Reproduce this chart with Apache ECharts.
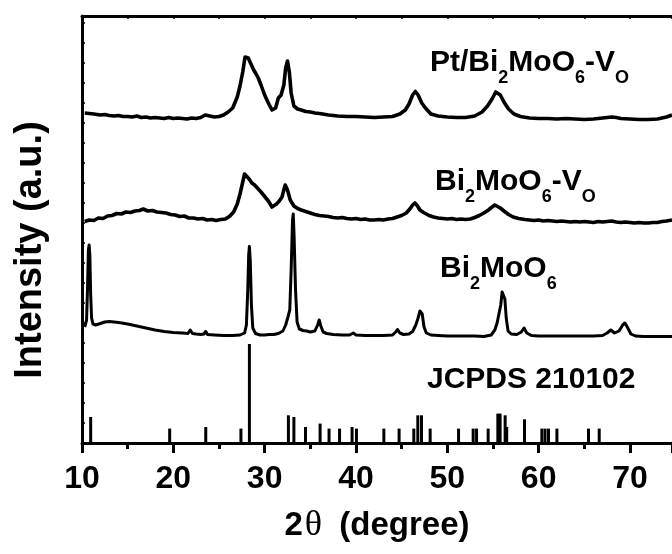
<!DOCTYPE html>
<html>
<head>
<meta charset="utf-8">
<script src="https://cdn.jsdelivr.net/npm/echarts@6/dist/echarts.min.js"></script>
<style>html,body{margin:0;padding:0;background:#fff}#chart{width:672px;height:554px}</style>
</head>
<body>
<div id="chart"></div>
<script>
// ---- data (2θ, relative intensity with vertical offsets) ----
const ptVoData = [
[10.3,330],[10.8,329.5],[11.3,329],[12,328],[12.5,328.5],[13,327.5],[13.5,327],[14,327.5],[14.5,326.5],[15,326.5],
[15.5,326],[16,327],[16.5,325.5],[17,326],[17.5,325],[18,325.5],[18.5,325],[19,324.5],[19.5,325.5],[20,324.5],
[20.5,325],[21,324.5],[21.5,324],[22,325],[22.5,324.5],[23,325.5],[23.5,328],[24,327],[24.5,326],[25,326.5],
[25.5,328],[26,331],[26.5,335],[27,346],[27.3,357],[27.6,371],[27.85,386],[28.0,388],[28.2,385],[28.4,381],
[28.6,377],[28.8,373],[29.0,370],[29.3,365],[29.6,358],[30.0,348],[30.4,340],[30.8,333],[31.0,331.5],[31.2,335],
[31.5,345],[31.8,348],[32.1,358],[32.3,375],[32.5,382],[32.7,371],[32.9,350],[33.2,337],[33.6,334],[34,333],
[34.5,331.5],[35,331],[35.5,330],[36,329.5],[37,328],[38,327],[39,326.5],[40,326.5],[41,326],[42,325.5],
[43,326],[44,326.5],[44.8,329],[45.4,333],[45.8,339],[46.2,348],[46.5,351.5],[46.8,348],[47.2,340],[47.6,335],
[48.2,329],[49,327],[50,326],[51,325.5],[52,325.5],[53,327],[53.8,331],[54.4,337],[54.9,344],[55.3,351],
[55.5,352.5],[55.8,348],[56.2,341],[56.7,334],[57.3,329],[58,326.5],[59,325],[60,324.5],[61,324.5],[62,324],
[63,324.5],[64,324],[65,323.5],[66,324],[67,325],[68,326],[68.5,325.5],[69,324.5],[70,324],[71,323.5],
[72,323.5],[73,324],[74,326],[74.6,328]
];
const voData = [
[10.3,221.5],[10.8,223],[11.3,222.5],[11.8,225],[12.3,224.5],[12.8,227],[13.3,227.5],[13.8,229.5],[14.3,229],[14.8,231],
[15.3,230.5],[15.8,232],[16.3,232.5],[16.7,234],[17.2,232],[17.7,232.5],[18.2,231],[18.7,230.5],[19.2,230],[19.7,228.5],
[20.2,228],[20.7,226.5],[21.2,227],[21.7,225],[22.2,225],[22.7,224],[23.2,224.5],[23.7,223],[24.2,223.5],[24.7,222.5],
[25.2,223.5],[25.7,224],[26.2,227],[26.6,231],[27.0,239],[27.3,249],[27.55,259],[27.8,269],[28.0,268],[28.3,264],
[28.6,260],[28.9,258],[29.2,255],[29.6,251],[30.0,246.5],[30.4,242],[30.8,236],[31.0,235],[31.3,239],[31.6,242],
[31.9,246],[32.1,253],[32.25,258],[32.5,253],[32.8,243],[33.2,237],[33.6,234.5],[34,233],[34.5,231.5],[35,230],
[35.5,228.5],[36,227.5],[36.5,227],[37,226.5],[37.5,225.5],[38,225],[38.5,225.5],[39,224.5],[39.5,224],[40,224.5],
[40.5,223.5],[41,224],[41.5,223],[42,223],[42.5,223.5],[43,223],[43.5,224],[44,224.5],[44.5,226],[45,227.5],
[45.5,230],[45.9,234],[46.2,238],[46.45,240],[46.7,237.5],[47.0,233],[47.4,230.5],[48,227.5],[48.5,226],[49,225],
[49.5,224.5],[50,224],[50.5,224.5],[51,223.5],[51.5,224],[52,223.5],[52.5,224],[53,225.5],[53.5,227.5],[54,230],
[54.5,233],[54.9,236],[55.2,238],[55.5,236.5],[55.8,235],[56.2,232],[56.7,228.5],[57.2,226],[57.8,224.5],[58.5,223.5],
[59,223],[59.5,222.5],[60,223],[60.5,222],[61,222.5],[61.5,222],[62,221.5],[62.5,222],[63,221.5],[63.5,221],
[64,221.5],[64.5,221],[65,221.5],[65.5,221],[66,220.5],[66.5,221.5],[67,221],[67.5,221.5],[68,222],[68.5,221],
[69,220.5],[69.5,221],[70,220.5],[70.5,220],[71,220.5],[71.5,220],[72,220],[72.5,220.5],[73,220.5],[73.5,221.5],
[74,222],[74.6,223]
];
const bmoData = [
[10.3,116],[10.5,123],[10.6,153],[10.7,193],[10.78,198],[10.86,188],[10.95,148],[11.05,125],[11.2,119],[11.5,118],
[12,119.5],[12.5,121],[13,121.5],[13.5,121],[14,120.5],[15,119],[16,117],[17,115],[18,113],[19,111.5],
[20,110.5],[21,110],[21.6,109.5],[21.85,113],[22.1,109.5],[22.5,109],[23,108.5],[23.35,109],[23.55,111.5],[23.75,108.5],
[24.5,108],[25.5,107.5],[26.5,107.5],[27.3,108],[27.8,110],[28.0,118],[28.15,153],[28.25,188],[28.33,196.5],[28.42,183],
[28.55,138],[28.7,115],[29,109.5],[29.5,108],[30,108],[30.5,108.5],[31,108.5],[31.5,109.5],[32,112],[32.3,118],
[32.55,126],[32.75,133],[32.9,173],[33.05,223],[33.13,229],[33.22,208],[33.38,153],[33.55,121],[33.8,114],[34.2,112.5],
[34.6,112],[35.0,111],[35.5,112],[35.8,118],[35.97,123],[36.15,117],[36.4,111],[36.8,109.5],[37.5,108.5],[38.5,108],
[39.3,108],[39.7,110],[40.0,108],[41,107.5],[42,107.5],[43,107.5],[44,108],[44.35,111],[44.55,113.5],[44.8,110],
[45.2,108.5],[45.8,109],[46.2,111.5],[46.55,118],[46.8,125],[47.0,132],[47.1,133.5],[47.25,129],[47.45,116],[47.7,110],
[48.2,108],[49,107.5],[50,107],[51,107],[52,107],[53,107],[54,106.5],[54.8,108],[55.2,113],[55.45,120],
[55.65,121],[55.85,138],[56.0,151],[56.15,152.5],[56.3,144],[56.45,125],[56.65,112],[57,109],[57.6,108.5],[58.1,111],
[58.4,115],[58.7,110],[59.2,107.5],[60,107],[62,107],[64,107],[66,107],[67,107.5],[67.5,110],[67.9,113],
[68.3,110],[68.8,112],[69.2,118],[69.45,120],[69.7,116],[70.1,109],[70.6,107],[71.5,106.5],[72.5,106.5],[74.6,106.5]
];
const jcpdsPeaks = [
[10.95,26],[19.6,14.4],[23.55,16],[27.4,14.4],[28.33,99],[32.6,27.7],[33.2,26],[34.47,16],[36.07,19.4],[37.05,14.4],
[38.2,14.4],[39.57,16],[40.05,14.4],[43.05,14.4],[44.72,14.4],[46.33,14.4],[46.77,27.7],[47.17,27.7],[48.12,14.4],[51.23,14.4],
[52.83,14.4],[53.2,14.4],[54.47,14.4],[55.53,29.4],[55.78,29.4],[56.33,27.7],[56.5,16],[58.45,23.7],[60.35,14.4],[60.7,14.4],
[61.08,14.4],[62.0,14.4],[65.46,14.4],[66.63,14.4]
];
const xTickLabels = ['10','20','30','40','50','60','70'];
const labels = [
  {parts:[{t:'Pt/Bi'},{t:'2',sub:true},{t:'MoO'},{t:'6',sub:true},{t:'-V'},{t:'O',sub:true}], left:430, base:73},
  {parts:[{t:'Bi'},{t:'2',sub:true},{t:'MoO'},{t:'6',sub:true},{t:'-V'},{t:'O',sub:true}], left:435, base:192},
  {parts:[{t:'Bi'},{t:'2',sub:true},{t:'MoO'},{t:'6',sub:true}], left:440, base:279},
  {parts:[{t:'JCPDS 210102'}], left:427, base:390}
];

const FONT = '"Liberation Sans", Arial, Helvetica, sans-serif';
const ctx = document.createElement('canvas').getContext('2d');
const graphics = [];
labels.forEach(l => {
  let x = l.left;
  l.parts.forEach(p => {
    const size = p.sub ? 18 : 30;
    const font = 'bold ' + size + 'px ' + FONT;
    ctx.font = font;
    const w = ctx.measureText(p.t).width;
    const b = p.sub ? l.base + 11 : l.base;
    graphics.push({type:'text', x: x, y: b + 0.17 * size, z: 100,
      style:{text:p.t, font:font, fill:'#000', textAlign:'left', textVerticalAlign:'bottom'}});
    x += w;
  });
});
graphics.push({type:'text', x:31, y:250, rotation: Math.PI/2, z:100,
  style:{text:'Intensity (a.u.)', font:'bold 38px ' + FONT, fill:'#000', textAlign:'center', textVerticalAlign:'middle'}});

const chart = echarts.init(document.getElementById('chart'), null, {renderer:'canvas'});
const lineStyle = {color:'#000', width:3, join:'round'};
const noisyStyle = {color:'#000', width:3.6, join:'round'};
chart.setOption({
  animation:false,
  backgroundColor:'#fff',
  grid:{left:82, right:0, top:16, bottom:111, containLabel:false},
  xAxis:[{
    type:'value', min:10, max:74.6, interval:10, position:'bottom',
    axisLine:{show:true, onZero:false, lineStyle:{color:'#000', width:3}},
    axisTick:{show:true, inside:false, length:10, lineStyle:{color:'#000', width:3}},
    minorTick:{show:true, splitNumber:2, length:6, lineStyle:{color:'#000', width:3}},
    splitLine:{show:false},
    axisLabel:{show:true, margin:20, color:'#000', fontSize:32, fontWeight:'bold', fontFamily:FONT,
      showMaxLabel:false,
      formatter: v => { const s = String(Math.round(v)); return (Math.abs(v - Math.round(v)) < 1e-6 && xTickLabels.indexOf(s) >= 0) ? s : ''; }},
    name:'{b|2}{t|θ}{b| (degree)}', nameLocation:'middle', nameGap:64,
    nameTextStyle:{rich:{
      b:{fontSize:33, fontWeight:'bold', fontFamily:FONT, color:'#000', lineHeight:38},
      t:{fontSize:36, fontWeight:'normal', fontFamily:'"Liberation Serif", "DejaVu Serif", serif', color:'#000', lineHeight:38, padding:[0,8,0,2]}
    }}
  },{
    type:'value', min:10, max:74.6, interval:5, position:'top',
    axisLine:{show:true, onZero:false, lineStyle:{color:'#000', width:3}},
    axisTick:{show:true, inside:true, length:3, lineStyle:{color:'#000', width:1.5}},
    axisLabel:{show:false}, splitLine:{show:false}
  }],
  yAxis:{
    type:'value', min:0, max:427, interval:20,
    axisLine:{show:true, onZero:false, lineStyle:{color:'#000', width:3}},
    axisTick:{show:true, inside:true, length:3, lineStyle:{color:'#000', width:1.5}},
    axisLabel:{show:false}, splitLine:{show:false}
  },
  series:[
    {type:'line', name:'Pt/Bi2MoO6-VO', data:ptVoData, symbol:'none', lineStyle:noisyStyle, z:3},
    {type:'line', name:'Bi2MoO6-VO', data:voData, symbol:'none', lineStyle:noisyStyle, z:3},
    {type:'line', name:'Bi2MoO6', data:bmoData, symbol:'none', lineStyle:lineStyle, z:3},
    {type:'bar', name:'JCPDS 210102', data:jcpdsPeaks, barWidth:3, itemStyle:{color:'#000'}, z:2}
  ],
  graphic: graphics
});
</script>
</body>
</html>
